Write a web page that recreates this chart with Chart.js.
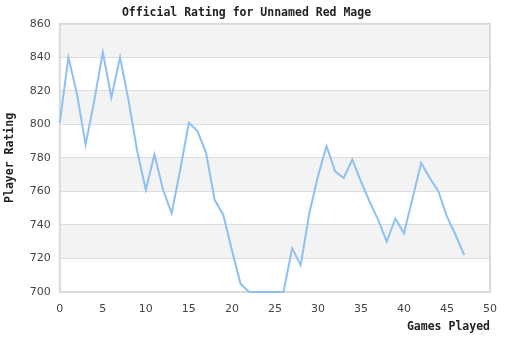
<!DOCTYPE html>
<html>
<head>
<meta charset="utf-8">
<script src="https://cdn.jsdelivr.net/npm/chart.js@4"></script>
<style>
  body { margin: 0; background: #fff; }
  canvas { display: block; }
</style>
</head>
<body>
<canvas id="rating" width="510" height="340"></canvas>
<script>
const games = [];
for (let i = 0; i <= 47; i++) games.push(i);
const ratings = [801, 840, 818, 788, 814, 843, 816, 840, 814, 784,
                 761, 782, 761, 747, 773, 801, 796, 783, 755, 746,
                 725, 705, 700, 700, 700, 700, 700, 726, 716, 747,
                 769, 787, 772, 768, 779, 766, 754, 743, 730, 744,
                 735, 756, 777, 768, 760, 745, 734, 722];
const bands = [[840, 860], [800, 820], [760, 780], [720, 740]];

const bandPlugin = {
    id: 'bands',
    beforeDraw(chart) {
        let ctx = chart.ctx, a = chart.chartArea, y = chart.scales.y;
        ctx.save();
        ctx.fillStyle = '#f3f3f3';
        bands.forEach(b => {
            let top = y.getPixelForValue(b[1]), bot = y.getPixelForValue(b[0]);
            ctx.fillRect(a.left, top, a.right - a.left, bot - top);
        });
        ctx.restore();
    },
    beforeDatasetsDraw(chart) {
        let ctx = chart.ctx, a = chart.chartArea;
        ctx.save();
        ctx.strokeStyle = '#dadada';
        ctx.lineWidth = 2;
        ctx.strokeRect(a.left, a.top, a.right - a.left, a.bottom - a.top);
        ctx.restore();
    }
};

let ctx = document.getElementById('rating').getContext('2d');
let chart = new Chart(ctx, {
    type: 'line',
    data: {
        datasets: [{
            data: games.map((g, i) => ({ x: g, y: ratings[i] })),
            borderColor: '#8ec0f2',
            borderWidth: 2,
            pointRadius: 0,
            tension: 0,
            fill: false,
            clip: 4
        }]
    },
    options: {
        responsive: false,
        animation: false,
        layout: { padding: { left: 3, right: 20, top: 0, bottom: 6 } },
        scales: {
            x: {
                type: 'linear',
                min: 0,
                max: 50,
                ticks: { stepSize: 5, color: '#444', padding: 3, font: { family: 'DejaVu Sans', size: 11 }, maxRotation: 0 },
                grid: { display: false },
                border: { display: false },
                title: {
                    display: true,
                    text: 'Games Played',
                    align: 'end',
                    color: '#222',
                    font: { family: 'DejaVu Sans Mono', size: 11.5, weight: 'bold' },
                    padding: { top: 1, bottom: 0 }
                }
            },
            y: {
                min: 700,
                max: 860,
                ticks: { stepSize: 20, color: '#444', padding: 9, font: { family: 'DejaVu Sans', size: 11 } },
                grid: { color: '#dddddd', drawTicks: false },
                border: { display: false },
                title: {
                    display: true,
                    text: 'Player Rating',
                    color: '#222',
                    font: { family: 'DejaVu Sans Mono', size: 11.5, weight: 'bold' },
                    padding: { top: 0, bottom: 4 }
                }
            }
        },
        plugins: {
            legend: { display: false },
            tooltip: { enabled: false },
            title: {
                display: true,
                text: 'Official Rating for Unnamed Red Mage',
                color: '#222',
                font: { family: 'DejaVu Sans Mono', size: 11.5, weight: 'bold' },
                padding: { top: 6, bottom: 4 }
            }
        }
    },
    plugins: [bandPlugin]
});
</script>
</body>
</html>
